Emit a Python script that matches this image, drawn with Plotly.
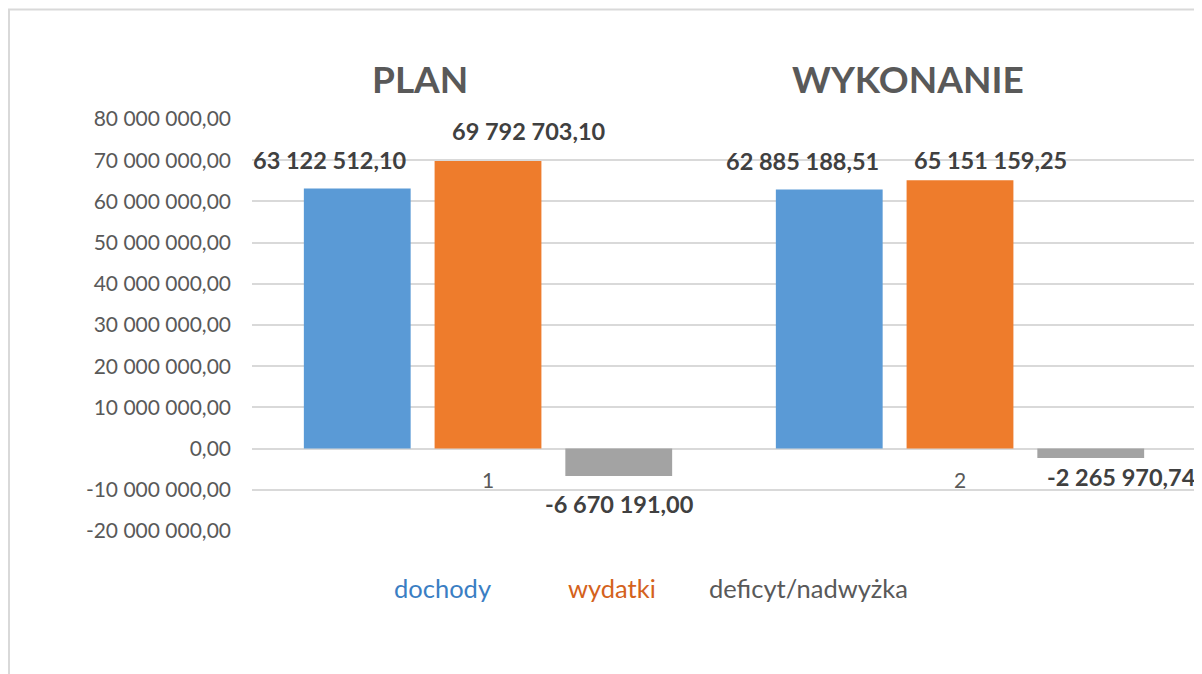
import plotly.graph_objects as go

categories = [1, 2]
series_names = ["dochody", "wydatki", "deficyt/nadwyżka"]
dochody = [63122512.10, 62885188.51]
wydatki = [69792703.10, 65151159.25]
deficyt = [-6670191.00, -2265970.74]
group_titles = ["PLAN", "WYKONANIE"]
tick_vals = [-20e6, -10e6, 0, 10e6, 20e6, 30e6, 40e6, 50e6, 60e6, 70e6, 80e6]


def fmt(v):
    s = f"{abs(v):,.2f}".replace(",", " ").replace(".", ",")
    return ("-" if v < 0 else "") + s


tick_text = [fmt(v) for v in tick_vals]

colors = ["#5a9ad6", "#ee7c2c", "#a3a3a3"]
legend_colors = ["#3a7ec3", "#d4621c", "#595959"]
FONT = "Lato"

fig = go.Figure()
series = [dochody, wydatki, deficyt]
for name, vals, col in zip(series_names, series, colors):
    fig.add_trace(go.Bar(x=categories, y=vals, name=name, marker=dict(color=col, line=dict(width=0)),
                         showlegend=False, hoverinfo="skip"))

# data label offsets (px) per series per category: (xshift, yshift)
label_shifts = [
    [(-27, 29), (-27, 29)],
    [(41, 30), (30, 20)],
    [(0, -28), (30, -19)],
]
slot = 131
for si, (vals, shifts) in enumerate(zip(series, label_shifts)):
    for ci, cat in enumerate(categories):
        v = vals[ci]
        dx, dy = shifts[ci]
        fig.add_annotation(x=cat, y=v, text=f"<b>{fmt(v)}</b>", showarrow=False,
                           xanchor="center", xshift=(si - 1) * slot + dx, yshift=dy,
                           font=dict(family=FONT, size=23.5, color="#404040"))

# category labels next to zero line
for cat in categories:
    fig.add_annotation(x=cat, y=0, text=str(cat), showarrow=False, yshift=-31, xanchor="center",
                       font=dict(family=FONT, size=21, color="#595959"))

# group titles
title_shifts = [-68, -52]
for cat, t, dx in zip(categories, group_titles, title_shifts):
    fig.add_annotation(x=cat, xref="x", y=1.0995, yref="paper", text=f"<b>{t}</b>",
                       showarrow=False, xshift=dx, xanchor="center", yanchor="middle",
                       font=dict(family=FONT, size=37, color="#595959"))

# text legend
legend_x = [0.2023, 0.381, 0.589]
for name, col, lx in zip(series_names, legend_colors, legend_x):
    fig.add_annotation(x=lx, xref="paper", y=-0.138, yref="paper", text=name, showarrow=False,
                       xanchor="center", yanchor="middle",
                       font=dict(family=FONT, size=25.5, color=col))

# outer border
fig.add_shape(type="rect", xref="paper", yref="paper", x0=-0.2574, y0=-0.4, x1=1.02, y1=1.266,
              line=dict(color="#d9d9d9", width=2), layer="below")

fig.update_layout(
    width=1194, height=666,
    margin=dict(l=244, r=6, t=111, b=143, autoexpand=False),
    paper_bgcolor="white", plot_bgcolor="white",
    barmode="group", bargap=0.169, bargroupgap=0.183,
    showlegend=False,
    font=dict(family=FONT, color="#595959"),
    xaxis=dict(type="linear", range=[0.5, 2.5], showticklabels=False, showgrid=False,
               zeroline=False, showline=False, ticks=""),
    yaxis=dict(range=[-20e6, 80e6], tickvals=tick_vals, ticktext=tick_text,
               showgrid=True, gridcolor="#d9d9d9", gridwidth=1.5,
               zeroline=True, zerolinecolor="#d9d9d9", zerolinewidth=1.5,
               showline=False, ticks="", ticklabelstandoff=20,
               tickfont=dict(family=FONT, size=21, color="#595959")),
)

fig.write_html("out.html")
